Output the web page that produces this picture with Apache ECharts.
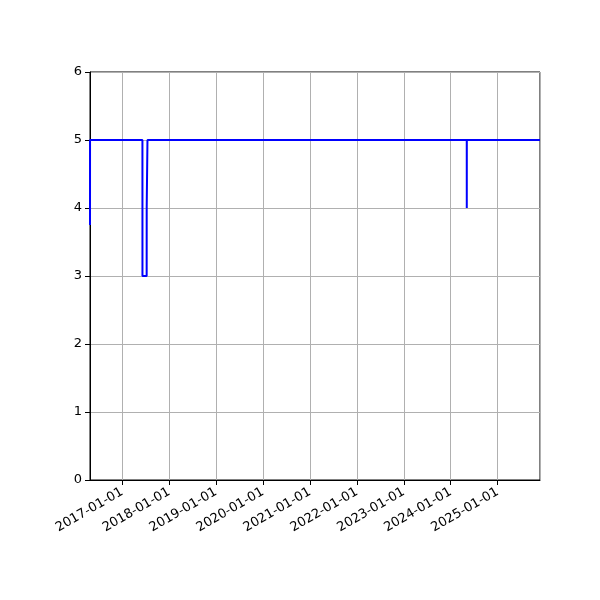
<!DOCTYPE html>
<html>
<head>
<meta charset="utf-8">
<script src="https://cdn.jsdelivr.net/npm/echarts@6/dist/echarts.min.js"></script>
<style>
  html, body { margin: 0; padding: 0; background: #fff; }
  #main { width: 600px; height: 600px; }
</style>
</head>
<body>
<div id="main"></div>
<script>
// level readings over time (steps drawn as vertical segments)
var dates = ['2016-04-25', '2016-04-25 06:00', '2017-06-07', '2017-06-07 06:00', '2017-07-10', '2017-07-10 06:00',
             '2017-07-16', '2017-07-16 06:00', '2024-05-05', '2024-05-05 06:00', '2024-05-05 12:00', '2025-11-26'];
var values = [3.75, 5, 5, 3, 3, 4, 4, 5, 5, 4, 5, 5];
var xMin = '2016-04-25';
var xMax = '2025-11-26';
var yTicks = [0, 1, 2, 3, 4, 5, 6];

var chart = echarts.init(document.getElementById('main'));

var seriesData = [];
for (var i = 0; i < dates.length; i++) {
    seriesData.push([dates[i], values[i]]);
}

function pad(n) { return n < 10 ? '0' + n : '' + n; }

var option = {
    animation: false,
    backgroundColor: '#fff',
    textStyle: { fontFamily: 'DejaVu Sans' },
    grid: {
        left: 90, right: 60, top: 72, bottom: 120,
        show: true,
        borderColor: '#000',
        borderWidth: 1
    },
    xAxis: {
        type: 'time',
        min: xMin,
        max: xMax,
        minInterval: 365 * 24 * 3600 * 1000,
        maxInterval: 366 * 24 * 3600 * 1000,
        axisLine: { show: true, lineStyle: { color: '#000', width: 1 } },
        axisTick: { show: true, length: 5, lineStyle: { color: '#000' } },
        axisLabel: {
            rotate: 30,
            color: '#000',
            fontSize: 13,
            fontFamily: 'DejaVu Sans',
            margin: 11,
            showMinLabel: false,
            showMaxLabel: false,
            formatter: function (v) {
                var d = new Date(v);
                return d.getFullYear() + '-' + pad(d.getMonth() + 1) + '-' + pad(d.getDate());
            }
        },
        splitLine: { show: true, lineStyle: { color: '#b0b0b0', width: 1 } }
    },
    yAxis: {
        type: 'value',
        min: yTicks[0],
        max: yTicks[yTicks.length - 1],
        interval: 1,
        axisLine: { show: true, lineStyle: { color: '#000', width: 1 } },
        axisTick: { show: true, length: 5, lineStyle: { color: '#000' } },
        axisLabel: { color: '#000', fontSize: 13, fontFamily: 'DejaVu Sans', margin: 8 },
        splitLine: { show: true, lineStyle: { color: '#b0b0b0', width: 1 } }
    },
    series: [{
        type: 'line',
        data: seriesData,
        symbol: 'none',
        lineStyle: { color: '#0000ff', width: 2 },
        itemStyle: { color: '#0000ff' }
    }]
};

chart.setOption(option);
</script>
</body>
</html>
